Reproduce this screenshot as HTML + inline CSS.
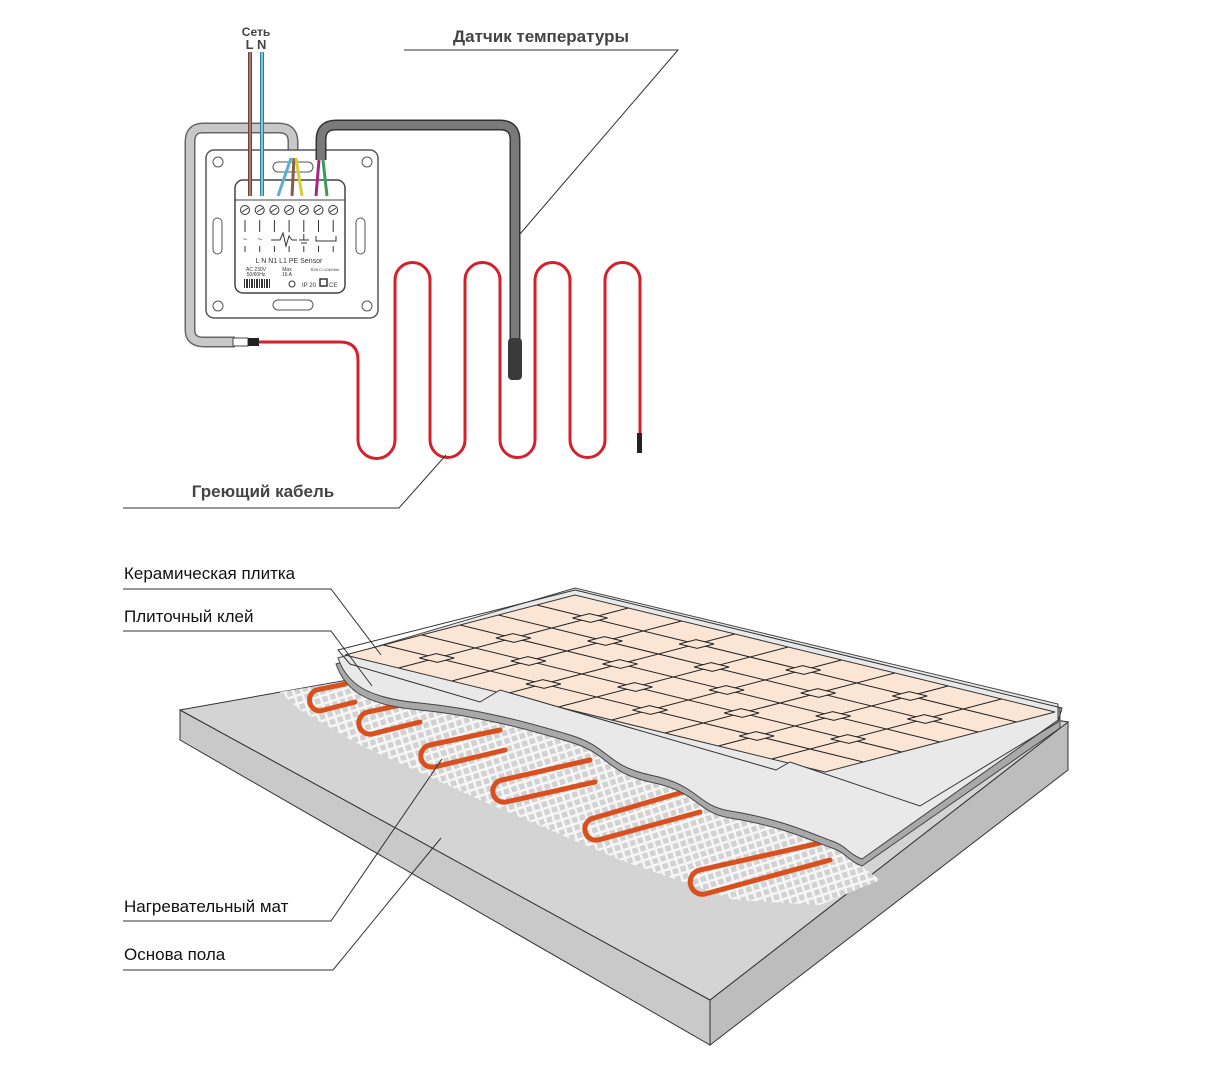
<!DOCTYPE html>
<html><head><meta charset="utf-8"><style>
html,body{margin:0;padding:0;background:#fff;}
svg{display:block;}
text{font-family:"Liberation Sans",sans-serif;}
</style></head><body>
<svg width="1218" height="1075" viewBox="0 0 1218 1075" xmlns="http://www.w3.org/2000/svg">
<defs>
<pattern id="mesh" width="8" height="8" patternUnits="userSpaceOnUse" patternTransform="rotate(-18)">
<rect width="8" height="8" fill="#d2d2d2"/>
<rect width="8" height="2.5" fill="#f6f6f6"/><rect width="2.5" height="8" fill="#f6f6f6"/>
</pattern>
<clipPath id="cut"><polygon points="338,650 575,590 1062,708 1058,722 920,806 790,762 776,770 500,690 480,702 350,664"/></clipPath>
</defs>

<text x="256" y="36" font-size="12" font-weight="bold" fill="#444" text-anchor="middle">Сеть</text>
<text x="256" y="49" font-size="13" font-weight="bold" fill="#444" text-anchor="middle">L N</text>

<path d="M293,155 L293,142 Q293,128 279,128 L203,128 Q190,128 190,142 L190,330 Q190,342 204,342 L235,342" fill="none" stroke="#666" stroke-width="11"/>
<path d="M293,155 L293,142 Q293,128 279,128 L203,128 Q190,128 190,142 L190,330 Q190,342 204,342 L235,342" fill="none" stroke="#c8c8c8" stroke-width="8"/>
<rect x="233" y="338" width="15" height="8" fill="#fff" stroke="#444"/>
<rect x="248" y="338" width="11" height="8" fill="#222"/>

<rect x="206" y="150" width="172" height="168" rx="8" fill="#fff" stroke="#555" stroke-width="1.5"/>
<circle cx="218" cy="162" r="5" fill="none" stroke="#555"/><circle cx="367" cy="162" r="5" fill="none" stroke="#555"/>
<circle cx="218" cy="306" r="5" fill="none" stroke="#555"/><circle cx="367" cy="306" r="5" fill="none" stroke="#555"/>
<rect x="213" y="218" width="9" height="36" rx="4.5" fill="none" stroke="#555"/>
<rect x="356" y="218" width="9" height="36" rx="4.5" fill="none" stroke="#555"/>
<rect x="273" y="300" width="40" height="10" rx="5" fill="none" stroke="#555"/>
<rect x="273" y="162" width="40" height="10" rx="5" fill="none" stroke="#555"/>
<rect x="235" y="180" width="110" height="113" rx="8" fill="#fff" stroke="#444" stroke-width="1.5"/>
<line x1="235" y1="200" x2="345" y2="200" stroke="#444"/>
<g fill="#fff" stroke="#333">
<circle cx="245" cy="210" r="4.5"/><circle cx="259.7" cy="210" r="4.5"/><circle cx="274.4" cy="210" r="4.5"/><circle cx="289.1" cy="210" r="4.5"/><circle cx="303.8" cy="210" r="4.5"/><circle cx="318.5" cy="210" r="4.5"/><circle cx="333.2" cy="210" r="4.5"/>
</g>
<g stroke="#333" stroke-width="1">
<line x1="242" y1="212" x2="248" y2="208"/><line x1="257" y1="212" x2="263" y2="208"/><line x1="271" y1="212" x2="277" y2="208"/><line x1="286" y1="212" x2="292" y2="208"/><line x1="301" y1="212" x2="307" y2="208"/><line x1="315" y1="212" x2="321" y2="208"/><line x1="330" y1="212" x2="336" y2="208"/>
<line x1="245" y1="220" x2="245" y2="232"/><line x1="259.7" y1="220" x2="259.7" y2="232"/><line x1="274.4" y1="220" x2="274.4" y2="232"/><line x1="289.1" y1="220" x2="289.1" y2="232"/><line x1="303.8" y1="220" x2="303.8" y2="232"/><line x1="318.5" y1="220" x2="318.5" y2="232"/><line x1="333.2" y1="220" x2="333.2" y2="232"/>
<line x1="245" y1="246" x2="245" y2="252"/><line x1="259.7" y1="246" x2="259.7" y2="252"/><line x1="274.4" y1="246" x2="274.4" y2="252"/><line x1="289.1" y1="246" x2="289.1" y2="252"/><line x1="303.8" y1="246" x2="303.8" y2="252"/><line x1="318.5" y1="246" x2="318.5" y2="252"/><line x1="333.2" y1="246" x2="333.2" y2="252"/>
<polyline points="271,240 280,240 283,233 286,246 289,236 292,240 297,240" fill="none"/>
<line x1="299" y1="240" x2="309" y2="240"/><line x1="301" y1="243" x2="307" y2="243"/><line x1="303.8" y1="234" x2="303.8" y2="240"/>
<path d="M316,236 L316,241 L336,241 L336,236" fill="none"/>
</g>
<text x="245" y="242" font-size="8" text-anchor="middle" fill="#333">~</text>
<text x="259.7" y="242" font-size="8" text-anchor="middle" fill="#333">~</text>
<text x="289" y="263" font-size="7" text-anchor="middle" fill="#333">L     N    N1  L1   PE  Sensor</text>
<text x="256" y="271" font-size="5" text-anchor="middle" fill="#333">AC 230V</text>
<text x="256" y="276" font-size="5" text-anchor="middle" fill="#333">50/60Hz</text>
<text x="287" y="271" font-size="5" text-anchor="middle" fill="#333">Max</text>
<text x="287" y="276" font-size="5" text-anchor="middle" fill="#333">16 A</text>
<text x="325" y="271" font-size="4" text-anchor="middle" fill="#333">R25 C=10kOhm</text>
<g fill="#333"><rect x="244" y="279" width="1" height="9"/><rect x="246" y="279" width="2" height="9"/><rect x="249" y="279" width="1" height="9"/><rect x="251" y="279" width="2" height="9"/><rect x="254" y="279" width="1" height="9"/><rect x="256" y="279" width="2" height="9"/><rect x="259" y="279" width="1" height="9"/><rect x="261" y="279" width="2" height="9"/><rect x="264" y="279" width="1" height="9"/><rect x="266" y="279" width="2" height="9"/><rect x="269" y="279" width="1" height="9"/></g>
<circle cx="292" cy="284" r="3" fill="none" stroke="#333"/>
<text x="302" y="287" font-size="6" fill="#333">IP 20</text>
<rect x="320" y="279" width="7" height="7" fill="none" stroke="#333" stroke-width="1.5"/>
<text x="329" y="287" font-size="6" fill="#333">CE</text>

<line x1="250" y1="52" x2="250" y2="196" stroke="#6b4436" stroke-width="4"/>
<line x1="250" y1="52" x2="250" y2="196" stroke="#a97a68" stroke-width="2"/>
<line x1="262" y1="52" x2="262" y2="196" stroke="#2f7ea0" stroke-width="4"/>
<line x1="262" y1="52" x2="262" y2="196" stroke="#7cc6e0" stroke-width="2"/>
<path d="M291,158 L278,196" stroke="#5ab0d0" stroke-width="3"/>
<path d="M294,158 L292,196" stroke="#8b5a4a" stroke-width="3"/>
<path d="M296,158 L302,196" stroke="#d8d030" stroke-width="3"/>
<path d="M321,160 L321,140 Q321,125 336,125 L500,125 Q515,125 515,140 L515,345" fill="none" stroke="#333" stroke-width="11"/>
<path d="M321,160 L321,140 Q321,125 336,125 L500,125 Q515,125 515,140 L515,345" fill="none" stroke="#7a7a7a" stroke-width="8"/>
<rect x="508" y="338" width="14" height="42" rx="4" fill="#3a3a3a"/>
<path d="M319,160 L316,196" stroke="#a8267f" stroke-width="3"/>
<path d="M323,160 L327,196" stroke="#3c9a5a" stroke-width="3"/>

<path d="M259,342 L340,342 Q358,342 358,360 L358,440 A18.5,18.5 0 0 0 395,440 L395,280 A17.5,17.5 0 0 1 430,280 L430,440 A17.5,17.5 0 0 0 465,440 L465,280 A17.5,17.5 0 0 1 500,280 L500,440 A17.5,17.5 0 0 0 535,440 L535,280 A17.5,17.5 0 0 1 570,280 L570,440 A17.5,17.5 0 0 0 605,440 L605,280 A17.5,17.5 0 0 1 640,280 L640,433" fill="none" stroke="#d4202a" stroke-width="3"/>
<rect x="637" y="433" width="5" height="20" fill="#222"/>

<text x="541" y="42" font-size="17" font-weight="bold" fill="#444" text-anchor="middle">Датчик температуры</text>
<polyline points="404,50 678,50 520,234" fill="none" stroke="#333" stroke-width="1"/>
<text x="263" y="497" font-size="17" font-weight="bold" fill="#444" text-anchor="middle">Греющий кабель</text>
<polyline points="123,508 399,508 446,455" fill="none" stroke="#333" stroke-width="1"/>

<polygon points="180,710 180,740 710,1045 710,1000" fill="#c9c9c9" stroke="#333"/>
<polygon points="710,1000 710,1045 1068,770 1068,722" fill="#bdbdbd" stroke="#333"/>
<polygon points="180,710 560,642 1068,722 710,1000" fill="#d4d4d4" stroke="#333"/>
<polygon points="280,692 560,646 900,760 860,865 880,880 820,905 735,900 620,860 480,800 360,745 300,710" fill="url(#mesh)"/>
<g fill="none" stroke="#d9501e" stroke-width="5" stroke-linecap="round">
<path d="M345,684 L316,690 A11,11 0 0 0 320,711 L355,702"/>
<path d="M410,703 L368,712 A11,11 0 0 0 372,734 L420,722"/>
<path d="M500,730 L430,745 A11,11 0 0 0 434,767 L505,750"/>
<path d="M590,760 L502,780 A11,11 0 0 0 506,802 L595,782"/>
<path d="M690,790 L594,818 A11,11 0 0 0 598,840 L700,812"/>
<path d="M820,843 L700,870 A12,12 0 0 0 705,894 L830,860"/>
</g>
<path d="M336,664 C345,690 365,705 420,710 C480,716 530,730 570,742 C610,754 605,772 650,782 C700,792 695,812 730,818 C780,826 805,838 832,848 C845,852 850,862 862,866 L1060,728 L1060,708 L575,592 Z" fill="#a9a9a9" stroke="#444"/>
<path d="M338,658 C347,684 367,698 420,703 C480,709 530,723 570,735 C610,747 605,765 650,775 C700,785 695,805 730,811 C780,819 805,831 832,841 C845,845 850,855 862,859 L1058,720 L1058,704 L575,588 Z" fill="#e9e9e9" stroke="#444"/>

<g clip-path="url(#cut)">
<polygon points="345,655 575,595 1055,712 825,772" fill="#fbe6d6" stroke="#333"/>
<g transform="matrix(53.3,13,-38.3,10,575,595)" stroke="#222" fill="none">
<line x1="1" y1="0" x2="1" y2="6" vector-effect="non-scaling-stroke"/>
<line x1="2" y1="0" x2="2" y2="6" vector-effect="non-scaling-stroke"/>
<line x1="3" y1="0" x2="3" y2="6" vector-effect="non-scaling-stroke"/>
<line x1="4" y1="0" x2="4" y2="6" vector-effect="non-scaling-stroke"/>
<line x1="5" y1="0" x2="5" y2="6" vector-effect="non-scaling-stroke"/>
<line x1="6" y1="0" x2="6" y2="6" vector-effect="non-scaling-stroke"/>
<line x1="7" y1="0" x2="7" y2="6" vector-effect="non-scaling-stroke"/>
<line x1="8" y1="0" x2="8" y2="6" vector-effect="non-scaling-stroke"/>
<line x1="0" y1="1" x2="9" y2="1" vector-effect="non-scaling-stroke"/>
<line x1="0" y1="2" x2="9" y2="2" vector-effect="non-scaling-stroke"/>
<line x1="0" y1="3" x2="9" y2="3" vector-effect="non-scaling-stroke"/>
<line x1="0" y1="4" x2="9" y2="4" vector-effect="non-scaling-stroke"/>
<line x1="0" y1="5" x2="9" y2="5" vector-effect="non-scaling-stroke"/>
<g fill="#fbe6d6">
<rect x="0.83" y="0.78" width="0.34" height="0.44" vector-effect="non-scaling-stroke"/><rect x="2.83" y="0.78" width="0.34" height="0.44" vector-effect="non-scaling-stroke"/><rect x="4.83" y="0.78" width="0.34" height="0.44" vector-effect="non-scaling-stroke"/><rect x="6.83" y="0.78" width="0.34" height="0.44" vector-effect="non-scaling-stroke"/>
<rect x="1.83" y="1.78" width="0.34" height="0.44" vector-effect="non-scaling-stroke"/><rect x="3.83" y="1.78" width="0.34" height="0.44" vector-effect="non-scaling-stroke"/><rect x="5.83" y="1.78" width="0.34" height="0.44" vector-effect="non-scaling-stroke"/><rect x="7.83" y="1.78" width="0.34" height="0.44" vector-effect="non-scaling-stroke"/>
<rect x="0.83" y="2.78" width="0.34" height="0.44" vector-effect="non-scaling-stroke"/><rect x="2.83" y="2.78" width="0.34" height="0.44" vector-effect="non-scaling-stroke"/><rect x="4.83" y="2.78" width="0.34" height="0.44" vector-effect="non-scaling-stroke"/><rect x="6.83" y="2.78" width="0.34" height="0.44" vector-effect="non-scaling-stroke"/>
<rect x="1.83" y="3.78" width="0.34" height="0.44" vector-effect="non-scaling-stroke"/><rect x="3.83" y="3.78" width="0.34" height="0.44" vector-effect="non-scaling-stroke"/><rect x="5.83" y="3.78" width="0.34" height="0.44" vector-effect="non-scaling-stroke"/><rect x="7.83" y="3.78" width="0.34" height="0.44" vector-effect="non-scaling-stroke"/>
<rect x="0.83" y="4.78" width="0.34" height="0.44" vector-effect="non-scaling-stroke"/><rect x="2.83" y="4.78" width="0.34" height="0.44" vector-effect="non-scaling-stroke"/><rect x="4.83" y="4.78" width="0.34" height="0.44" vector-effect="non-scaling-stroke"/><rect x="6.83" y="4.78" width="0.34" height="0.44" vector-effect="non-scaling-stroke"/>
</g>
</g>
</g>
<polygon points="338,650 575,590 1062,708 1058,722 920,806 790,762 776,770 500,690 480,702 350,664" fill="none" stroke="#333" stroke-width="1"/>

<g font-size="17" fill="#111">
<text x="124" y="579">Керамическая плитка</text>
<text x="124" y="622">Плиточный клей</text>
<text x="124" y="912">Нагревательный мат</text>
<text x="124" y="960">Основа пола</text>
</g>
<g fill="none" stroke="#333" stroke-width="1">
<polyline points="123,589 331,589 381,655"/>
<polyline points="123,631 331,631 372,686"/>
<polyline points="123,921 331,921 442,759"/>
<polyline points="123,970 333,970 441,838"/>
</g>
</svg>
</body></html>
